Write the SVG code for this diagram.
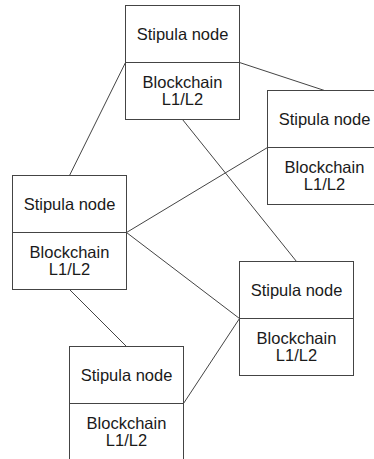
<svg xmlns="http://www.w3.org/2000/svg" width="374" height="459" viewBox="0 0 374 459">
<style>
.box{fill:#fff;stroke:#444;stroke-width:1}
.div{stroke:#444;stroke-width:1}
.edge{stroke:#444;stroke-width:1;fill:none}
.t{font-family:"Liberation Sans",Arial,Helvetica,sans-serif;font-size:16.5px;fill:#1a1a1a;text-anchor:middle}
</style>
<rect width="374" height="459" fill="#fff"/>
<g id="connectors">
<line class="edge" x1="125.5" y1="62.5" x2="69.5" y2="175.5"/>
<line class="edge" x1="239.5" y1="62.5" x2="324.5" y2="90.5"/>
<line class="edge" x1="182.5" y1="119.5" x2="296.5" y2="261.5"/>
<line class="edge" x1="126.5" y1="232.5" x2="267.5" y2="147.5"/>
<line class="edge" x1="126.5" y1="232.5" x2="239.5" y2="318.5"/>
<line class="edge" x1="69.5" y1="289.5" x2="126.5" y2="346.5"/>
<line class="edge" x1="183.5" y1="403.5" x2="239.5" y2="318.5"/>
</g>
<g id="nodeA" transform="translate(125.5,5.5)">
<rect class="box" width="114" height="114"/>
<line class="div" x1="0" y1="57" x2="114" y2="57"/>
<text class="t" x="57" y="34">Stipula node</text>
<text class="t" x="57" y="82">Blockchain</text>
<text class="t" x="57" y="99">L1/L2</text>
</g>
<g id="nodeB" transform="translate(267.5,90.5)">
<rect class="box" width="114" height="114"/>
<line class="div" x1="0" y1="57" x2="114" y2="57"/>
<text class="t" x="57" y="34">Stipula node</text>
<text class="t" x="57" y="82">Blockchain</text>
<text class="t" x="57" y="99">L1/L2</text>
</g>
<g id="nodeC" transform="translate(12.5,175.5)">
<rect class="box" width="114" height="114"/>
<line class="div" x1="0" y1="57" x2="114" y2="57"/>
<text class="t" x="57" y="34">Stipula node</text>
<text class="t" x="57" y="82">Blockchain</text>
<text class="t" x="57" y="99">L1/L2</text>
</g>
<g id="nodeD" transform="translate(239.5,261.5)">
<rect class="box" width="114" height="114"/>
<line class="div" x1="0" y1="57" x2="114" y2="57"/>
<text class="t" x="57" y="34">Stipula node</text>
<text class="t" x="57" y="82">Blockchain</text>
<text class="t" x="57" y="99">L1/L2</text>
</g>
<g id="nodeE" transform="translate(69.5,346.5)">
<rect class="box" width="114" height="114"/>
<line class="div" x1="0" y1="57" x2="114" y2="57"/>
<text class="t" x="57" y="34">Stipula node</text>
<text class="t" x="57" y="82">Blockchain</text>
<text class="t" x="57" y="99">L1/L2</text>
</g>
</svg>
